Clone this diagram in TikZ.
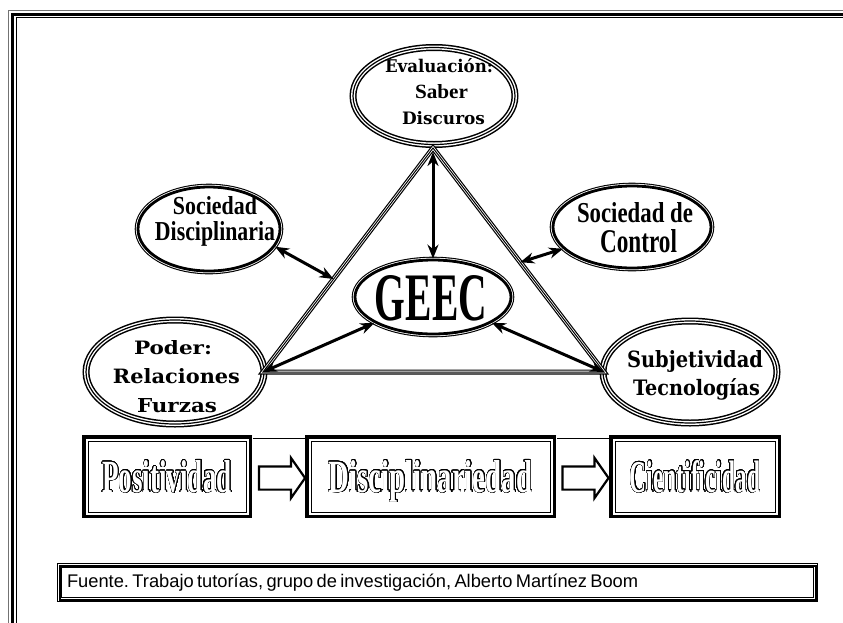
\documentclass[tikz,border=0pt]{standalone}
\usepackage{fontspec}
\setmainfont{Liberation Serif}
\newfontfamily\dvs{DejaVu Serif}
\newfontfamily\lsans{Liberation Sans}
\usepackage{graphicx}
\usepackage[copies]{contour}
\contourlength{0.55pt}
\contournumber{32}
\frenchspacing
\usetikzlibrary{shapes.geometric,shapes.arrows,arrows.meta,calc}
\newcommand{\fwh}[3]{\resizebox{#1pt}{#2pt}{#3}}
\newcommand{\outl}[3]{{\color{white}\contour{black}{\raisebox{0pt}[#2pt][0pt]{\resizebox{#1pt}{#2pt}{\bfseries #3}}}}}
\begin{document}
\begin{tikzpicture}[x=1pt,y=-1pt,
  tri/.style={ellipse, inner sep=0pt, preaction={fill=white}, preaction={draw, line width=7pt}, preaction={draw=white, line width=4pt}, draw, line width=1.2pt},
  dbl/.style={ellipse, inner sep=0pt, preaction={draw, line width=6.6pt}, preaction={draw=white, line width=4.4pt}, fill=white, draw, line width=2.8pt},
  trl/.style={preaction={draw, line width=5pt}, preaction={draw=white, line width=2.6pt}, draw, line width=1pt, line join=miter},
  arr/.style={line width=3pt, {Stealth[length=14pt,width=11pt]}-{Stealth[length=14pt,width=11pt]}},
  txt/.style={anchor=base, inner sep=0pt},
  stagebox/.style={rectangle, inner sep=0pt, preaction={draw, line width=12pt}, preaction={draw=white, line width=5pt}, fill=white, draw, line width=1pt},
  blockarrow/.style={single arrow, draw, line width=2.2pt, fill=white, inner sep=0pt, minimum height=46pt, single arrow head extend=8.5pt, single arrow tip angle=110, inner ysep=10.5pt},
  srcbox/.style={rectangle, preaction={fill=white}, preaction={draw, line width=5.2pt}, preaction={draw=white, line width=3.6pt}, draw, line width=2pt}
]
\useasboundingbox[fill=white] (0,0) rectangle (843,622);
% page frame
\draw[line width=0.8pt, black!55] (8.5,640) |- (860,10.8);
\draw[line width=3pt] (12,640) |- (860,14.3);
\draw[line width=1pt] (16,640) |- (860,17.7);

% ellipses
\node[tri, minimum width=162pt, minimum height=97pt] (ev) at (434,96) {};
\node[dbl, minimum width=142pt, minimum height=84pt] (sd) at (209,229) {};
\node[dbl, minimum width=158pt, minimum height=82pt] (sc) at (632,227) {};
\node[dbl, minimum width=156pt, minimum height=74pt] (geec) at (433,297) {};
\node[tri, minimum width=178pt, minimum height=104pt] (pod) at (175,372) {};
\node[tri, minimum width=174pt, minimum height=102pt] (sub) at (690,372) {};

% texts
\node[txt] (t1) at (439,72) {\fwh{108}{14}{\dvs\bfseries Evaluación:}};
\node[txt] (t2) at (441.5,98) {\fwh{53}{14}{\bfseries Saber}};
\node[txt] (t3) at (443.5,124) {\fwh{83}{13}{\dvs\bfseries Discuros}};
\node[txt] (t4) at (215,214) {\fwh{84}{18}{\bfseries Sociedad}};
\node[txt] (t5) at (215,240) {\fwh{120}{19}{\bfseries Disciplinaria}};
\node[txt] (t6) at (635,222) {\fwh{116}{20}{\bfseries Sociedad de}};
\node[txt] (t7) at (638.5,252) {\fwh{77}{23}{\bfseries Control}};
\node[txt] (t8) at (431,320) {\fwh{112}{45}{\bfseries GEEC}};
\node[txt] (t9) at (173,354) {\fwh{78}{14}{\dvs\bfseries Poder:}};
\node[txt] (t10) at (176.5,383) {\fwh{127}{15}{\dvs\bfseries Relaciones}};
\node[txt] (t11) at (177,412) {\fwh{80}{14}{\dvs\bfseries Furzas}};
\node[txt] (t12) at (695,367) {\fwh{136}{17}{\dvs\bfseries Subjetividad}};
\node[txt] (t13) at (696.5,395) {\fwh{127}{17}{\dvs\bfseries Tecnologías}};

% triangle
\coordinate (A) at (433,148);
\coordinate (B) at (263,372);
\coordinate (C) at (604,372);
\draw[trl] (A) -- (B) -- (C) -- cycle;
\coordinate (L) at ($(A)!0.585!(B)$);
\coordinate (R) at ($(A)!0.51!(C)$);

% arrows
\draw[arr] ([yshift=-4pt]A) -- (geec);
\draw[arr] (B) -- (geec);
\draw[arr] (C) -- (geec);
\draw[arr] (L) -- (sd.-15);
\draw[arr] (R) -- (sc);

% stage boxes
\node[stagebox, minimum width=158pt, minimum height=71pt] (b1) at (167,476.5) {\outl{129}{32}{Positividad}};
\node[stagebox, minimum width=239pt, minimum height=71pt] (b2) at (430.5,476.5) {\outl{203}{32}{Disciplinariedad}};
\node[stagebox, minimum width=160pt, minimum height=71pt] (b3) at (695,476.5) {\outl{130}{32}{Cientificidad}};
\draw[line width=0.6pt, double distance=2.8pt] ([shift={(6pt,4pt)}]b1.north east) -- ([shift={(-6pt,4pt)}]b2.north west);
\draw[line width=0.6pt, double distance=2.8pt] ([shift={(6pt,4pt)}]b2.north east) -- ([shift={(-6pt,4pt)}]b3.north west);
\node[blockarrow] (ar1) at (278,478) {};
\node[blockarrow] (ar2) at (581.5,478) {};

% source box
\node[srcbox, minimum width=756pt, minimum height=34pt, text width=741pt, align=left, inner xsep=7.5pt, inner ysep=0pt] (src) at (437.5,582.5) {\lsans\fontsize{18.3}{21}\selectfont Fuente. Trabajo tutorías, grupo de investigación, Alberto Martínez Boom};
\end{tikzpicture}
\end{document}
